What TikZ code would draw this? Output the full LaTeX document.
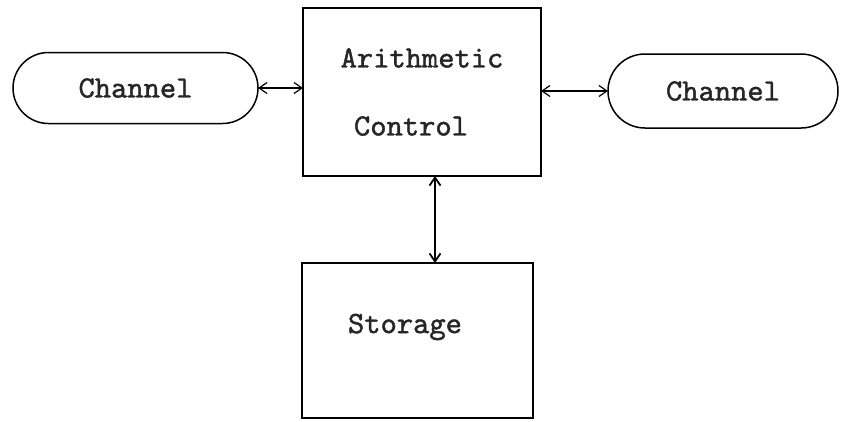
\documentclass[tikz,border=0pt]{standalone}
\usepackage{fontspec}
\newfontfamily\typew{lmmono10-regular.otf}[FakeBold=1.3]
\usetikzlibrary{shapes.misc,arrows.meta}
\begin{document}
\begin{tikzpicture}[x=1pt,y=-1pt,>={Straight Barb[length=8pt,width=11pt]},
  font=\typew\fontsize{31}{44}\selectfont,line width=1.5pt,text=black!85,
  unit/.style={draw,minimum width=#1,inner sep=0pt,outer sep=0pt},
  chan/.style={draw,rounded rectangle,minimum height=71pt,inner sep=0pt,outer sep=0pt}]
	\useasboundingbox (0,0) rectangle (841,421);
	\node[unit=238pt,minimum height=168pt,align=center] (ac) at (422,92) {Arithmetic\\[24pt]\hspace*{-22pt}Control};
	\node[chan,minimum width=245pt] (ch1) at (135.5,88) {Channel};
	\node[chan,minimum width=230pt,minimum height=74pt] (ch2) at (723,91) {Channel};
	\node[unit=231pt,minimum height=155pt] (st) at (417.5,340.5) {};
	\node (stl) at (405,327) {Storage};
	\coordinate (va) at (435,0);
	\draw[<->,line width=1.2pt](ch1.east)--(ch1.east -| ac.west);
	\draw[<->,line width=1.2pt](ac.east |- ch2.west)--(ch2.west);
	\draw[<->,line width=1.8pt](ac.south -| va)--(st.north -| va);
\end{tikzpicture}
\end{document}
